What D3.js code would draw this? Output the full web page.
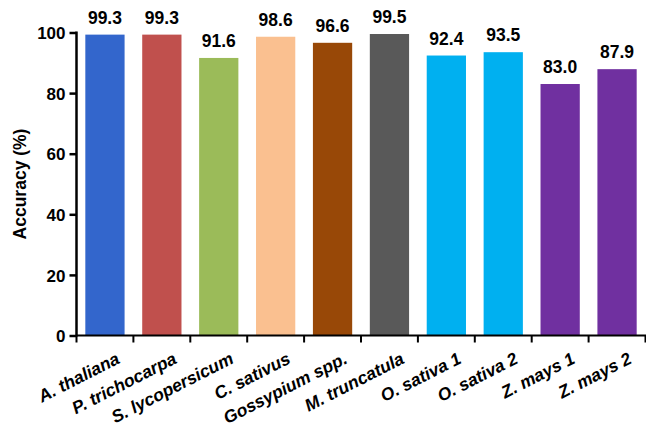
<!DOCTYPE html>
<html><head><meta charset="utf-8">
<script src="https://cdn.jsdelivr.net/npm/d3@7"></script>
<style>body{margin:0;background:#fff}svg{display:block}text{font-family:"Liberation Sans",Arial,sans-serif;font-weight:bold;fill:#000}</style>
</head><body><svg id="c" width="646" height="427"></svg>
<script>
const categories = ["A. thaliana","P. trichocarpa","S. lycopersicum","C. sativus","Gossypium spp.","M. truncatula","O. sativa 1","O. sativa 2","Z. mays 1","Z. mays 2"];
const values = [99.3,99.3,91.6,98.6,96.6,99.5,92.4,93.5,83.0,87.9];
const colors = ["#3366CC","#C0504D","#9BBB59","#FAC090","#984807","#595959","#00B0F0","#00B0F0","#7030A0","#7030A0"];
const yTicks = [0,20,40,60,80,100];

const svg = d3.select("#c");
const x = d3.scaleBand().domain(categories).range([76.5,645.5]).paddingInner(0.31).paddingOuter(0.155);
const y = d3.scaleLinear().domain([0,100]).range([335.5,32.5]);

svg.selectAll("rect.bar").data(values).join("rect").attr("class","bar")
  .attr("x",(d,i)=>x(categories[i])).attr("width",x.bandwidth())
  .attr("y",d=>y(d)).attr("height",d=>y(0)-y(d)).attr("fill",(d,i)=>colors[i]);

svg.selectAll("text.val").data(values).join("text").attr("class","val")
  .attr("x",(d,i)=>x(categories[i])+x.bandwidth()/2).attr("y",d=>y(d)-11)
  .attr("text-anchor","middle").attr("font-size",17.5).text(d=>d.toFixed(1));

const ya = svg.append("g").attr("transform","translate(76.5,0)")
  .call(d3.axisLeft(y).tickValues(yTicks).tickSize(7).tickPadding(4));
ya.select(".domain").attr("stroke","#000").attr("stroke-width",2.5).attr("d","M0,"+(y(100)-1)+"V"+(y(0)+1));
ya.selectAll(".tick line").attr("stroke","#000").attr("stroke-width",2.5);
ya.selectAll(".tick text").attr("font-size",17).attr("dy","0.36em").attr("font-family","Liberation Sans, Arial, sans-serif").attr("font-weight","bold").attr("fill","#000");

const step = x.step();
const xa = svg.append("g").attr("transform","translate(0,"+y(0)+")")
  .call(d3.axisBottom(x).tickSize(0).tickFormat(""));
xa.select(".domain").attr("stroke","#000").attr("stroke-width",2).attr("d","M76.5,0H646");
const bounds = d3.range(0,categories.length+1).map(i=>x.range()[0]+i*step);
svg.selectAll("line.xt").data(bounds).join("line").attr("class","xt")
  .attr("x1",d=>d).attr("x2",d=>d).attr("y1",y(0)).attr("y2",y(0)+7)
  .attr("stroke","#000").attr("stroke-width",2);

svg.selectAll("text.xl").data(categories).join("text").attr("class","xl")
  .attr("transform",d=>"translate("+(x(d)+x.bandwidth()/2+16)+","+(y(0)+27)+") rotate(-27)")
  .attr("text-anchor","end").attr("font-size",17.5).attr("font-style","italic").text(d=>d);

svg.append("text").attr("transform","translate(26,"+((y(0)+y(100))/2)+") rotate(-90)")
  .attr("text-anchor","middle").attr("font-size",17.5).text("Accuracy (%)");
</script></body></html>
